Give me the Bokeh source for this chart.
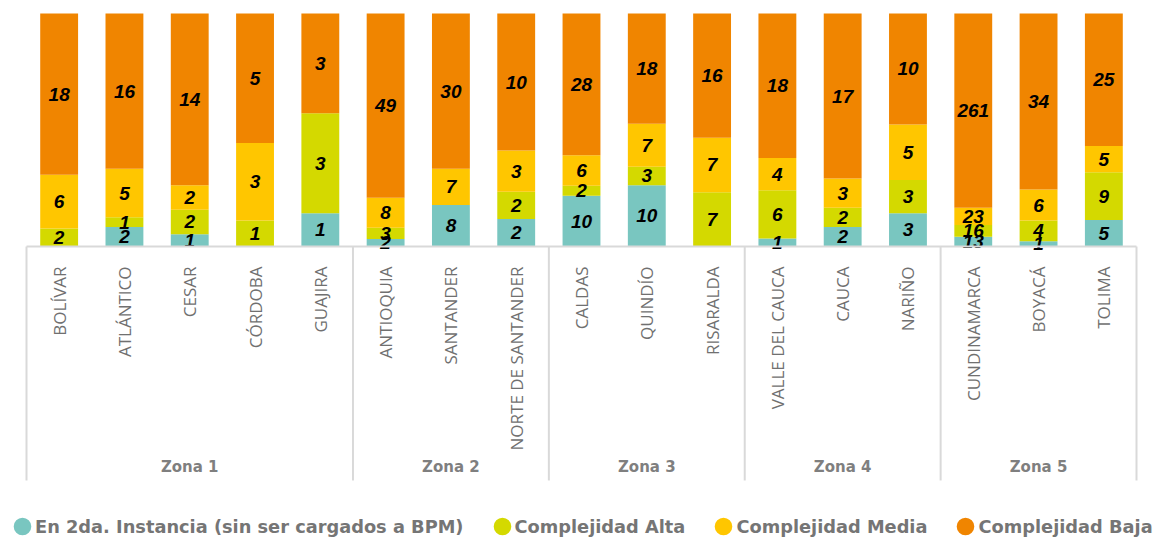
from math import pi
import numpy as np
from bokeh.plotting import figure
from bokeh.models import FactorRange, Range1d, ColumnDataSource, Legend, LegendItem
from bokeh.transform import dodge
from bokeh.core.properties import value
from bokeh.embed import file_html
from bokeh.resources import INLINE

# ---------------- data ----------------
departamentos = ["BOLÍVAR", "ATLÁNTICO", "CESAR", "CÓRDOBA", "GUAJIRA",
                 "ANTIOQUIA", "SANTANDER", "NORTE DE SANTANDER",
                 "CALDAS", "QUINDÍO", "RISARALDA",
                 "VALLE DEL CAUCA", "CAUCA", "NARIÑO",
                 "CUNDINAMARCA", "BOYACÁ", "TOLIMA"]
zona_de = ["Zona 1", "Zona 1", "Zona 1", "Zona 1", "Zona 1",
           "Zona 2", "Zona 2", "Zona 2",
           "Zona 3", "Zona 3", "Zona 3",
           "Zona 4", "Zona 4", "Zona 4",
           "Zona 5", "Zona 5", "Zona 5"]
segunda_instancia = [0, 2, 1, 0, 1, 2, 8, 2, 10, 10, 0, 1, 2, 3, 13, 1, 5]
complejidad_alta = [2, 1, 2, 1, 3, 3, 0, 2, 2, 3, 7, 6, 2, 3, 16, 4, 9]
complejidad_media = [6, 5, 2, 3, 0, 8, 7, 3, 6, 7, 7, 4, 3, 5, 23, 6, 5]
complejidad_baja = [18, 16, 14, 5, 3, 49, 30, 10, 28, 18, 16, 18, 17, 10, 261, 34, 25]

series_names = ["En 2da. Instancia (sin ser cargados a BPM)", "Complejidad Alta",
                "Complejidad Media", "Complejidad Baja"]
colors = ["#79C6C0", "#D4D900", "#FFC600", "#F08500"]

# ---------------- derived ----------------
series = [segunda_instancia, complejidad_alta, complejidad_media, complejidad_baja]
keys = ["s0", "s1", "s2", "s3"]
totals = [sum(v) for v in zip(*series)]
data = {"dept": departamentos}
for k, s in zip(keys, series):
    data[k] = [v / t * 100 for v, t in zip(s, totals)]
src = ColumnDataSource(data)

lab_x, lab_y, lab_t = [], [], []
for i, d in enumerate(departamentos):
    base = 0.0
    for k, s in zip(keys, series):
        pct = data[k][i]
        if s[i] > 0:
            lab_x.append(d)
            lab_y.append(base + pct / 2)
            lab_t.append(str(s[i]))
        base += pct
lab_src = ColumnDataSource(dict(x=lab_x, y=lab_y, t=lab_t))

zonas = []
for z in zona_de:
    if z not in zonas:
        zonas.append(z)
zona_members = {z: [d for d, zz in zip(departamentos, zona_de) if zz == z] for z in zonas}
zona_mid = [zona_members[z][len(zona_members[z]) // 2] for z in zonas]
zona_first = [zona_members[z][0] for z in zonas]

# ---------------- figure ----------------
PX_PER_UNIT = 2.33
x_range = FactorRange(factors=departamentos, range_padding=0.2757,
                      range_padding_units="absolute")
p = figure(width=1154, height=537, x_range=x_range,
           y_range=Range1d(-124.9, 100.43),
           output_backend="svg", toolbar_location=None,
           x_axis_location=None, y_axis_location=None,
           min_border_left=8, min_border_right=0, min_border_top=12, min_border_bottom=0)
p.outline_line_color = None
p.xgrid.visible = False
p.ygrid.visible = False

renderers = p.vbar_stack(keys, x="dept", width=0.58, source=src,
                         fill_color=colors, line_color=None)

p.text(x="x", y="y", text="t", source=lab_src,
       text_font=value("Liberation Sans"), text_font_style="bold italic",
       text_font_size="19px", text_color="#000000",
       text_align="center", text_baseline="middle")

# axis line and separators
line_kw = dict(line_color="#D9D9D9", line_width=2)
axis_src = ColumnDataSource(dict(a=[departamentos[0]], b=[departamentos[-1]], y=[0]))
p.segment(x0=dodge("a", -0.5, range=p.x_range), x1=dodge("b", 0.5, range=p.x_range),
          y0="y", y1="y", source=axis_src, **line_kw)
sep_bottom = -234 / PX_PER_UNIT
sep_src = ColumnDataSource(dict(d=zona_first, y0=[0] * len(zona_first), y1=[sep_bottom] * len(zona_first)))
p.segment(x0=dodge("d", -0.5, range=p.x_range), x1=dodge("d", -0.5, range=p.x_range),
          y0="y0", y1="y1", source=sep_src, **line_kw)
end_src = ColumnDataSource(dict(d=[departamentos[-1]], y0=[0], y1=[sep_bottom]))
p.segment(x0=dodge("d", 0.5, range=p.x_range), x1=dodge("d", 0.5, range=p.x_range),
          y0="y0", y1="y1", source=end_src, **line_kw)

# category labels
cat_src = ColumnDataSource(dict(x=departamentos, y=[0] * len(departamentos)))
p.text(x="x", y="y", text="x", source=cat_src, angle=pi / 2, y_offset=20,
       text_font=value("Open Sans"), text_font_size="17px", text_color="#707070",
       text_align="right", text_baseline="middle")

# zone labels
zone_src = ColumnDataSource(dict(x=zona_mid, y=[0] * len(zona_mid), t=zonas))
p.text(x="x", y="y", text="t", source=zone_src, y_offset=221,
       text_font=value("DejaVu Sans"), text_font_style="bold", text_font_size="15px",
       text_color="#7F7F7F", text_align="center", text_baseline="middle")

# legend (round markers; the single NaN point is never drawn in the plot)
items = []
for name, c in zip(series_names, colors):
    r = p.ellipse(x=[departamentos[0]], y=np.array([np.nan]), width=10, height=10,
                  width_units="screen", height_units="screen",
                  fill_color=c, line_color=None)
    items.append(LegendItem(label=name, renderers=[r]))
legend = Legend(items=items, orientation="horizontal", location=(3, 0),
                glyph_width=22, glyph_height=22, label_standoff=2, spacing=27,
                padding=0, margin=0, background_fill_alpha=0, border_line_alpha=0,
                label_text_font="DejaVu Sans", label_text_font_style="bold",
                label_text_font_size="17.8px", label_text_color="#757575",
                label_text_baseline="middle")
p.add_layout(legend, "center")

open("out.html", "w").write(file_html(p, INLINE))
